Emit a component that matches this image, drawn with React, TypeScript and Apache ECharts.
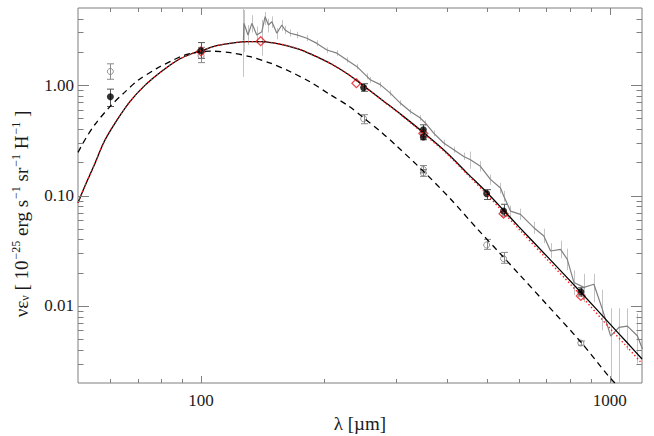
import React, { useEffect, useRef } from 'react';
import * as echarts from 'echarts';

// ---- axis ticks ----
const xMajorTicks = [100, 1000];
const xMinorTicks = [60, 70, 80, 90, 200, 300, 400, 500, 600, 700, 800, 900];
const yMajorTicks = [0.01, 0.1, 1];
const yMinorTicks = [0.003, 0.004, 0.005, 0.006, 0.007, 0.008, 0.009, 0.02, 0.03, 0.04, 0.05, 0.06, 0.07, 0.08, 0.09, 0.2, 0.3, 0.4, 0.5, 0.6, 0.7, 0.8, 0.9, 2, 3, 4];

// ---- model curves ----
const solidX = [50, 52, 55, 58, 62, 67, 73, 80, 88, 95, 100, 110, 120, 130, 140, 150, 160, 175, 190, 210, 230, 250, 280, 310, 350, 400, 450, 500, 550, 600, 700, 850, 1000, 1100, 1200];
const solidY = [0.086, 0.122, 0.195, 0.31, 0.47, 0.71, 1.0, 1.33, 1.7, 1.93, 2.05, 2.29, 2.42, 2.48, 2.48, 2.42, 2.31, 2.1, 1.84, 1.53, 1.24, 0.985, 0.715, 0.535, 0.372, 0.243, 0.157, 0.107, 0.0735, 0.052, 0.0285, 0.0133, 0.0069, 0.0047, 0.0033];

const dottedX = [50, 52, 55, 58, 62, 67, 73, 80, 88, 95, 100, 110, 120, 130, 140, 150, 160, 175, 190, 210, 230, 250, 280, 310, 350, 400, 450, 500, 550, 600, 700, 850, 1000, 1100, 1200];
const dottedY = [0.086, 0.122, 0.195, 0.31, 0.47, 0.71, 1.0, 1.33, 1.7, 1.93, 2.05, 2.29, 2.42, 2.48, 2.48, 2.42, 2.31, 2.1, 1.84, 1.53, 1.24, 0.98, 0.71, 0.53, 0.365, 0.238, 0.153, 0.103, 0.07, 0.0495, 0.0268, 0.0124, 0.0063, 0.0043, 0.003];

const dashedX = [50, 52, 55, 60, 65, 70, 78, 85, 90, 95, 100, 107, 118, 132, 148, 165, 185, 207, 230, 250, 275, 300, 350, 408, 474, 541, 600, 700, 850, 1000, 1060];
const dashedY = [0.246, 0.32, 0.44, 0.645, 0.86, 1.1, 1.42, 1.67, 1.84, 1.95, 2.01, 2.03, 1.97, 1.81, 1.58, 1.33, 1.07, 0.82, 0.645, 0.505, 0.38, 0.285, 0.166, 0.093, 0.05, 0.0295, 0.0194, 0.0104, 0.0047, 0.00225, 0.0018];

// ---- spectrum ----
const specX = [127.0, 127.4, 130.3, 133.2, 136.9, 140.9, 143.5, 146.2, 149.1, 153.3, 157.7, 160.6, 165.3, 171.6, 181.6, 192.1, 203.3, 215.1, 227.6, 240.8, 254.7, 259.5, 274.6, 290.5, 307.4, 325.3, 344.2, 354, 371, 392.6, 415.4, 439.5, 456.4, 482.8, 510.9, 540.6, 550.8, 571.9, 605.1, 652.4, 690.2, 716.9, 758.5, 787.7, 817.6, 865, 915.2, 959.6, 1005.8, 1054, 1105, 1169, 1203];
const specY = [2.57, 3.63, 2.85, 3.63, 2.85, 3.05, 4.17, 3.51, 3.75, 2.95, 3.51, 3.16, 2.95, 2.85, 2.66, 2.39, 2.08, 1.95, 1.69, 1.47, 1.2, 1.12, 1.01, 0.847, 0.688, 0.577, 0.503, 0.454, 0.368, 0.299, 0.26, 0.226, 0.211, 0.184, 0.14, 0.117, 0.0985, 0.0722, 0.0674, 0.0511, 0.0429, 0.0314, 0.0325, 0.0264, 0.0163, 0.0147, 0.0157, 0.00934, 0.00532, 0.00638, 0.00656, 0.00536, 0.00406];
const specLo = [1.19, 2.0, 2.3, 3.0, 2.4, 1.85, 3.5, 3.0, 3.3, 2.6, 3.1, 2.9, 2.75, 2.65, 2.5, 2.25, 1.95, 1.84, 1.6, 1.39, 1.13, 1.05, 0.95, 0.8, 0.65, 0.545, 0.475, 0.43, 0.345, 0.28, 0.244, 0.21, 0.175, 0.165, 0.125, 0.104, 0.088, 0.064, 0.06, 0.045, 0.037, 0.027, 0.027, 0.021, 0.0125, 0.0108, 0.0108, 0.006, 0.0015, 0.0015, 0.004, 0.003, 0.0025];
const specHi = [5.0, 4.8, 3.5, 4.3, 3.4, 3.9, 4.6, 4.0, 4.2, 3.3, 3.9, 3.45, 3.2, 3.05, 2.85, 2.55, 2.2, 2.07, 1.79, 1.56, 1.28, 1.19, 1.07, 0.9, 0.73, 0.61, 0.535, 0.48, 0.39, 0.32, 0.277, 0.245, 0.25, 0.205, 0.155, 0.13, 0.11, 0.081, 0.076, 0.058, 0.05, 0.037, 0.039, 0.033, 0.021, 0.0195, 0.0195, 0.014, 0.0095, 0.0095, 0.0095, 0.0085, 0.0065];

// ---- photometry ----
const blackX = [60, 100, 250, 350, 350, 500, 550, 850];
const blackY = [0.784, 2.05, 0.95, 0.394, 0.339, 0.104, 0.0722, 0.0134];
const blackLo = [0.64, 1.75, 0.88, 0.36, 0.32, 0.092, 0.0652, 0.0123];
const blackHi = [0.92, 2.43, 1.03, 0.437, 0.37, 0.113, 0.0833, 0.0146];

const openX = [60, 100, 250, 350, 350, 500, 550, 850];
const openY = [1.33, 1.85, 0.496, 0.172, 0.16, 0.0356, 0.0268, 0.0046];
const openLo = [1.13, 1.6, 0.447, 0.16, 0.149, 0.0325, 0.0243, 0.0044];
const openHi = [1.56, 2.2, 0.54, 0.187, 0.172, 0.04, 0.0305, 0.0048];

const diamondX = [100, 140, 240, 350, 550, 850];
const diamondY = [2.02, 2.5, 1.04, 0.365, 0.0683, 0.0123];

const FONT = 'Liberation Serif, DejaVu Serif, serif';
const TICK = '#7f7f7f';
const TEXT = '#1a1a1a';

const pairs = (xs: number[], ys: number[]) => xs.map((x, i) => [x, ys[i]]);
const triples = (xs: number[], lo: number[], hi: number[]) => xs.map((x, i) => [x, lo[i], hi[i]]);
const near = (v: number, list: number[]) => list.some((t) => Math.abs(v / t - 1) < 1e-6);

function errSeries(data: number[][], color: string, cap: number, width: number, clip: boolean) {
  return {
    type: 'custom',
    clip,
    silent: true,
    data,
    encode: { x: 0, y: [1, 2] },
    renderItem: (params: any, api: any) => {
      const p1 = api.coord([api.value(0), api.value(1)]);
      const p2 = api.coord([api.value(0), api.value(2)]);
      const x = Math.round(p1[0]) + 0.5;
      const style = { stroke: color, lineWidth: width, fill: null };
      const children: any[] = [{ type: 'line', shape: { x1: x, y1: p1[1], x2: x, y2: p2[1] }, style }];
      if (cap > 0) {
        children.push({ type: 'line', shape: { x1: x - cap, y1: p1[1], x2: x + cap, y2: p1[1] }, style });
        children.push({ type: 'line', shape: { x1: x - cap, y1: p2[1], x2: x + cap, y2: p2[1] }, style });
      }
      return { type: 'group', children };
    },
  };
}

function tickSeries(vals: number[], axis: 'x' | 'y', len: number) {
  return {
    type: 'custom',
    silent: true,
    z: 10,
    data: vals.map((v) => (axis === 'x' ? [v, 1] : [100, v])),
    encode: { x: 0, y: 1 },
    renderItem: (params: any, api: any) => {
      const cs = params.coordSys;
      const style = { stroke: TICK, lineWidth: 1, fill: null };
      if (axis === 'x') {
        const x = Math.round(api.coord([api.value(0), 1])[0]) + 0.5;
        return {
          type: 'group',
          children: [
            { type: 'line', shape: { x1: x, y1: cs.y + cs.height, x2: x, y2: cs.y + cs.height - len }, style },
            { type: 'line', shape: { x1: x, y1: cs.y, x2: x, y2: cs.y + len }, style },
          ],
        };
      }
      const y = Math.round(api.coord([100, api.value(1)])[1]) + 0.5;
      return {
        type: 'group',
        children: [
          { type: 'line', shape: { x1: cs.x, y1: y, x2: cs.x + len, y2: y }, style },
          { type: 'line', shape: { x1: cs.x + cs.width, y1: y, x2: cs.x + cs.width - len, y2: y }, style },
        ],
      };
    },
  };
}

export default function App() {
  const ref = useRef<HTMLDivElement>(null);
  useEffect(() => {
    document.body.style.margin = '0';
    const chart = echarts.init(ref.current as HTMLDivElement, null, { renderer: 'svg' });
    const option: any = {
      animation: false,
      backgroundColor: '#ffffff',
      textStyle: { fontFamily: FONT },
      grid: {
        left: 78,
        right: 12,
        top: 8,
        bottom: 53,
        show: true,
        borderColor: TICK,
        borderWidth: 1,
        backgroundColor: 'transparent',
        containLabel: false,
        outerBoundsMode: 'none',
      },
      xAxis: {
        type: 'log',
        logBase: 10,
        min: 50,
        max: 1200,
        axisLine: { show: false },
        axisTick: { show: false },
        splitLine: { show: false },
        axisLabel: {
          margin: 9,
          color: TEXT,
          fontFamily: FONT,
          fontSize: 17,
          formatter: (v: number) => (near(v, xMajorTicks) ? String(Math.round(v)) : ''),
        },
        name: 'λ [µm]',
        nameLocation: 'middle',
        nameGap: 28,
        nameTextStyle: { color: TEXT, fontFamily: FONT, fontSize: 19 },
      },
      yAxis: {
        type: 'log',
        logBase: 10,
        min: 0.002,
        max: 5,
        axisLine: { show: false },
        axisTick: { show: false },
        splitLine: { show: false },
        axisLabel: {
          margin: 4,
          color: TEXT,
          fontFamily: FONT,
          fontSize: 17,
          formatter: (v: number) => (near(v, yMajorTicks) ? v.toFixed(2) : ''),
        },
      },
      graphic: [
        {
          type: 'text',
          x: 21,
          y: 214,
          rotation: Math.PI / 2,
          style: {
            text: '{b|νε}{s|ν}{b| [ 10}{p|−25}{b| erg s}{p|−1}{b| sr}{p|−1}{b| H}{p|−1}{b| ]}',
            align: 'center',
            verticalAlign: 'middle',
            fill: TEXT,
            rich: {
              b: { fontFamily: FONT, fontSize: 19, lineHeight: 26, verticalAlign: 'middle', fill: TEXT },
              p: { fontFamily: FONT, fontSize: 12, lineHeight: 26, verticalAlign: 'top', fill: TEXT, padding: [2, 0, 0, 1] },
              s: { fontFamily: FONT, fontSize: 12, lineHeight: 26, verticalAlign: 'bottom', fill: TEXT, padding: [0, 0, 3, 0] },
            },
          },
        },
      ],
      series: [
        errSeries(triples(specX, specLo, specHi), '#c4c4c4', 0, 1, true),
        {
          type: 'line',
          data: pairs(specX, specY),
          symbol: 'none',
          silent: true,
          lineStyle: { color: '#808080', width: 1.2 },
        },
        {
          type: 'line',
          data: pairs(dashedX, dashedY),
          symbol: 'none',
          smooth: 0.3,
          silent: true,
          lineStyle: { color: '#000', width: 1.3, type: [6, 4.5] },
        },
        {
          type: 'line',
          data: pairs(solidX, solidY),
          symbol: 'none',
          smooth: 0.3,
          silent: true,
          lineStyle: { color: '#000', width: 1.3 },
        },
        {
          type: 'line',
          data: pairs(dottedX, dottedY),
          symbol: 'none',
          smooth: 0.3,
          silent: true,
          lineStyle: { color: '#ff1a1a', width: 1.4, type: [1.4, 2.4] },
        },
        errSeries(triples(openX, openLo, openHi), '#8a8a8a', 3.5, 1, false),
        errSeries(triples(blackX, blackLo, blackHi), '#555555', 3.5, 1, false),
        {
          type: 'scatter',
          data: pairs(openX, openY),
          symbol: 'circle',
          symbolSize: 6,
          silent: true,
          itemStyle: { color: 'rgba(0,0,0,0)', borderColor: '#7a7a7a', borderWidth: 1 },
        },
        {
          type: 'scatter',
          data: pairs(diamondX, diamondY),
          symbol: 'diamond',
          symbolSize: 9,
          silent: true,
          itemStyle: { color: 'rgba(0,0,0,0)', borderColor: '#e8141c', borderWidth: 1.2 },
        },
        {
          type: 'scatter',
          data: pairs(blackX, blackY),
          symbol: 'circle',
          symbolSize: 7,
          silent: true,
          itemStyle: { color: '#000' },
        },
        tickSeries(xMajorTicks, 'x', 7),
        tickSeries(xMinorTicks, 'x', 4),
        tickSeries(yMajorTicks, 'y', 11),
        tickSeries(yMinorTicks, 'y', 5.5),
      ],
    };
    chart.setOption(option);
    return () => chart.dispose();
  }, []);
  return <div ref={ref} style={{ width: 654, height: 436 }} />;
}
